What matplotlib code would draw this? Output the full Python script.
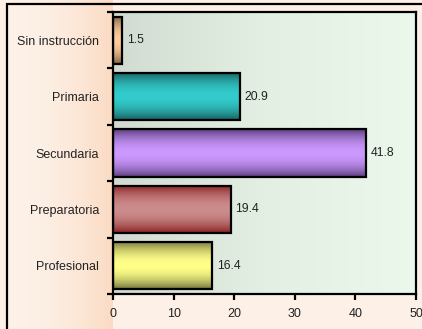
import numpy as np
import matplotlib
matplotlib.use("Agg")
import matplotlib.pyplot as plt
from matplotlib.colors import LinearSegmentedColormap, to_rgb
from matplotlib.patches import Rectangle

plt.rcParams['font.family'] = ['Liberation Sans', 'DejaVu Sans']

categories = ["Sin instrucción", "Primaria", "Secundaria", "Preparatoria", "Profesional"]
values = [1.5, 20.9, 41.8, 19.4, 16.4]
value_labels = ["1.5", "20.9", "41.8", "19.4", "16.4"]
x_ticks = [0, 10, 20, 30, 40, 50]

# (edge shade, centre highlight) for each cylinder-style bar
bar_shades = [
    ("#7a5a3c", "#ffcc99"),
    ("#175a5a", "#33cccc"),
    ("#563a78", "#cc99ff"),
    ("#861c1c", "#cc8c8c"),
    ("#6e6e3a", "#ffff88"),
]

W, H = 422, 329
fig = plt.figure(figsize=(W / 100, H / 100), dpi=100)

# figure background: peach wash that deepens towards the category labels
bg = fig.add_axes([0, 0, 1, 1], zorder=-10)
bg.set_axis_off()
xs = np.linspace(0, 1, 422)
peak = 113 / W
light = np.array(to_rgb("#fdf0e6"))
deep = np.array(to_rgb("#fbdbc3"))
t = np.clip((xs - 30 / W) / (peak - 30 / W), 0, 1) ** 1.5
t[xs > peak] = 0
row = light[None, :] * (1 - t[:, None]) + deep[None, :] * t[:, None]
bg.imshow(row[None, :, :], extent=[0, 1, 0, 1], aspect='auto')
bg.set_xlim(0, 1)
bg.set_ylim(0, 1)
bg.add_patch(Rectangle((7 / W, -0.1), 1.2, 1 - 4 / H + 0.1, fill=False,
                       edgecolor="black", linewidth=1.6))

ax = fig.add_axes([113 / W, 1 - 294 / H, (416 - 113) / W, (294 - 12) / H])
n = len(categories)
ypos = np.arange(n)
ax.set_xlim(0, 50)
ax.set_ylim(n - 0.5, -0.5)

# plot area gradient
grad = np.linspace(0, 1, 256)
pa_cmap = LinearSegmentedColormap.from_list("pa", ["#d1dbd1", "#e4efe4", "#edf8ed"])
ax.imshow(grad[None, :], cmap=pa_cmap, extent=[0, 50, n - 0.5, -0.5],
          aspect='auto', zorder=0)

bars = ax.barh(ypos, values, height=0.84, facecolor="none",
               edgecolor="black", linewidth=1.6, zorder=3)

v = np.linspace(-1, 1, 64)
prof = np.cos(v * np.pi / 2) ** 0.8
for bar, (dark, bright) in zip(bars, bar_shades):
    d = np.array(to_rgb(dark))
    b = np.array(to_rgb(bright))
    col = d[None, :] * (1 - prof[:, None]) + b[None, :] * prof[:, None]
    x0, y0 = bar.get_x(), bar.get_y()
    ax.imshow(col[:, None, :], extent=[x0, x0 + bar.get_width(), y0 + bar.get_height(), y0],
              aspect='auto', zorder=2, interpolation='bilinear')

for bar, lab in zip(bars, value_labels):
    ax.text(bar.get_width() + 0.8, bar.get_y() + bar.get_height() / 2, lab,
            va='center', ha='left', fontsize=8.8, color="#222222", zorder=4)

ax.set_yticks(ypos)
ax.set_yticklabels(categories, fontsize=9, color="#222222")
ax.tick_params(axis='y', which='major', length=0, pad=10)
ax.set_yticks(np.arange(n + 1) - 0.5, minor=True)
ax.tick_params(axis='y', which='minor', length=4, width=1.6, direction='out')

ax.set_xticks(x_ticks)
ax.set_xticklabels([str(x) for x in x_ticks], fontsize=9, color="#222222")
ax.tick_params(axis='x', length=4, width=1.6, direction='out', pad=6)

for s in ax.spines.values():
    s.set_linewidth(1.6)
    s.set_zorder(5)

fig.savefig("out.png", dpi=100)
